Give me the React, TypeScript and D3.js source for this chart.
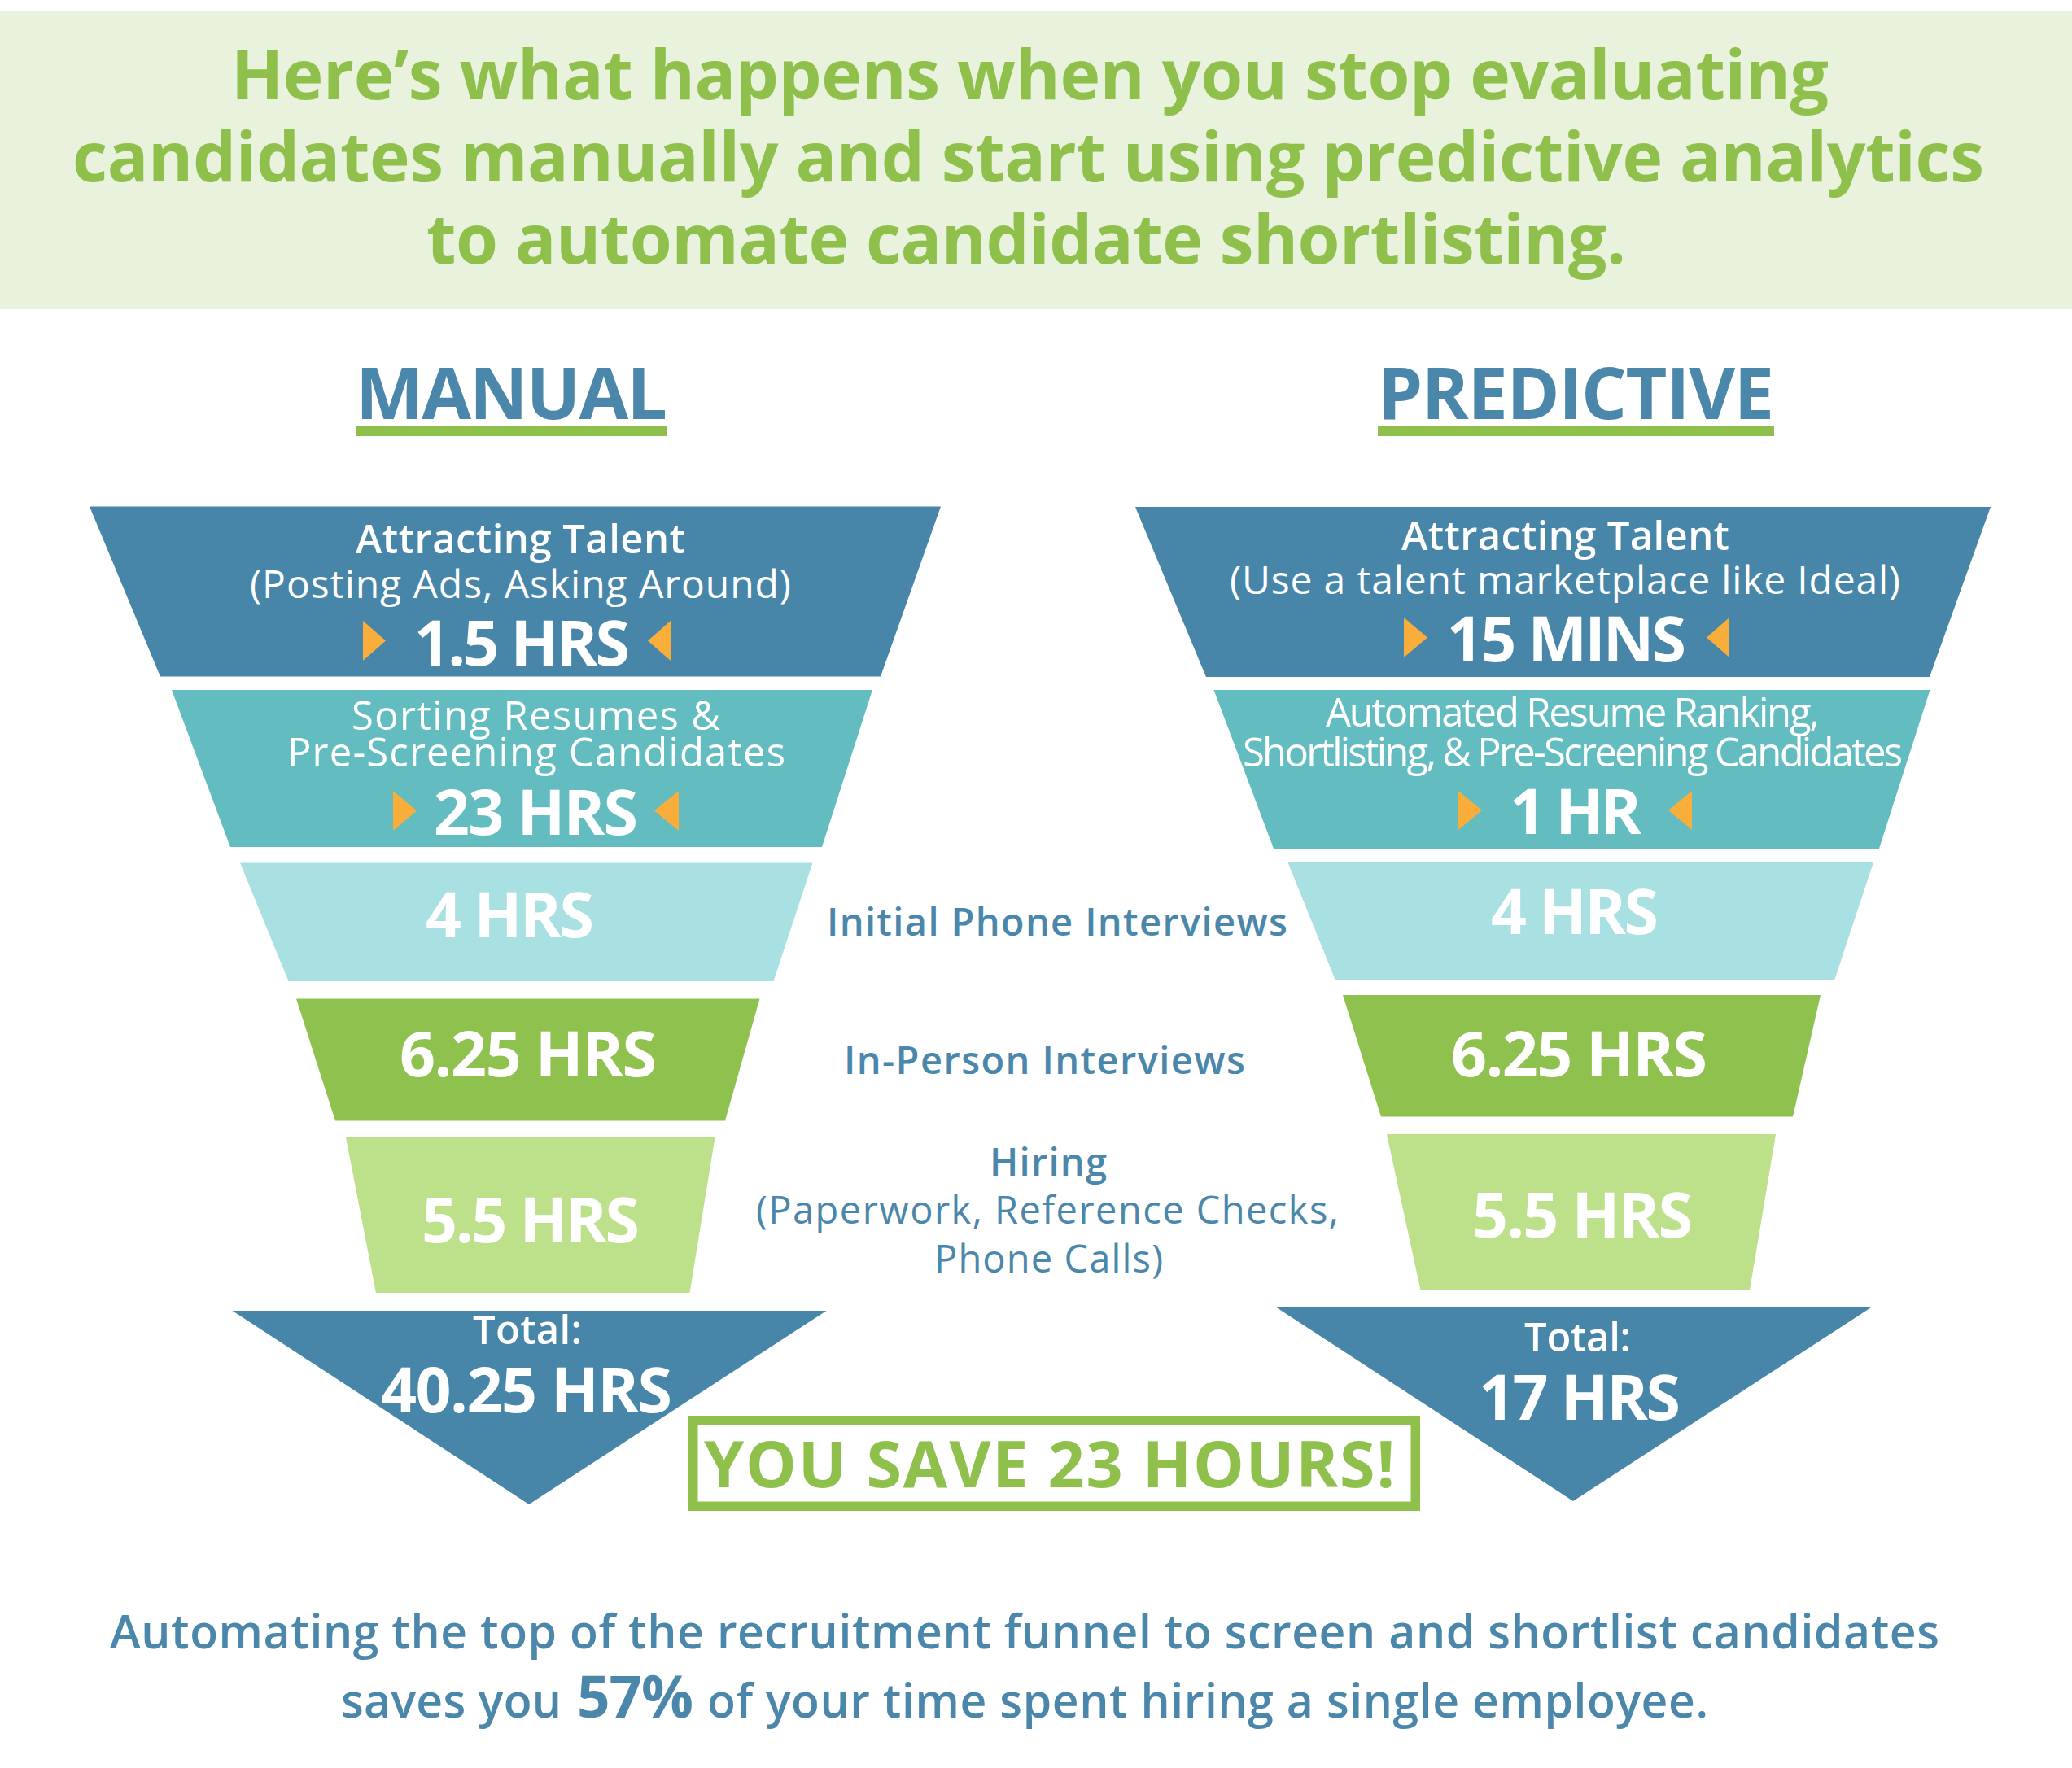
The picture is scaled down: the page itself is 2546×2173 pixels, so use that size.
import React from "react";
import * as d3 from "d3";

// ---------- DATA ----------
const titleLines = [
  "Here\u2019s what happens when you stop evaluating",
  "candidates manually and start using predictive analytics",
  "to automate candidate shortlisting.",
];
const columnTitles = ["MANUAL", "PREDICTIVE"];
const manualStageLabels = [
  ["Attracting Talent", "(Posting Ads, Asking Around)"],
  ["Sorting Resumes &", "Pre-Screening Candidates"],
];
const predictiveStageLabels = [
  ["Attracting Talent", "(Use a talent marketplace like Ideal)"],
  ["Automated Resume Ranking,", "Shortlisting, & Pre-Screening Candidates"],
];
const middleLabels = [
  ["Initial Phone Interviews"],
  ["In-Person Interviews"],
  ["Hiring", "(Paperwork, Reference Checks,", "Phone Calls)"],
];
const manualHours = ["1.5 HRS", "23 HRS", "4 HRS", "6.25 HRS", "5.5 HRS"];
const predictiveHours = ["15 MINS", "1 HR", "4 HRS", "6.25 HRS", "5.5 HRS"];
const totalLabel = "Total:";
const manualTotal = "40.25 HRS";
const predictiveTotal = "17 HRS";
const saveText = "YOU SAVE 23 HOURS!";
const footerLine1 = "Automating the top of the recruitment funnel to screen and shortlist candidates";
const footerLine2 = ["saves you", "57%", "of your time spent hiring a single employee."];

// ---------- STYLE / LAYOUT ----------
const BLUE = "#4786a8";
const TEXTBLUE = "#4a87aa";
const GREEN = "#8fc04c";
const ORANGE = "#f9ae3b";
const segColors = ["#4786a8", "#63bcc0", "#a9e0e2", "#8fc14f", "#bde08b"];
const FONT = "'Open Sans', 'Noto Sans', sans-serif";

const leftGeom = [
  { yt: 622.5, yb: 831.5, tl: 110, tr: 1156, bl: 197, br: 1082 },
  { yt: 848, yb: 1041, tl: 211, tr: 1072, bl: 283, br: 1010 },
  { yt: 1060.5, yb: 1206, tl: 295, tr: 998.5, bl: 354.5, br: 950.5 },
  { yt: 1227.5, yb: 1377.5, tl: 364, tr: 933.5, bl: 412, br: 891 },
  { yt: 1398, yb: 1589, tl: 425, tr: 878.5, bl: 462, br: 847.5 },
];
const rightGeom = [
  { yt: 623, yb: 832, tl: 1395, tr: 2446, bl: 1482, br: 2371 },
  { yt: 848, yb: 1043, tl: 1491.5, tr: 2371.5, bl: 1565, br: 2309 },
  { yt: 1060, yb: 1205, tl: 1582.5, tr: 2302, bl: 1641, br: 2254 },
  { yt: 1223, yb: 1372.5, tl: 1650, tr: 2237, bl: 1697, br: 2203 },
  { yt: 1394, yb: 1585.5, tl: 1704, tr: 2182, bl: 1745.5, br: 2150 },
];
const leftTri = { yt: 1611, l: 285.5, r: 1015.5, ax: 650, ay: 1849 };
const rightTri = { yt: 1607, l: 1568.5, r: 2299, ax: 1933, ay: 1845 };

const closed = d3.line().curve(d3.curveLinearClosed);

function T({ x1, x2, y, size, weight = 400, fill = "#fff", children, adjust = "spacing" }: any) {
  return (
    <text
      x={x1}
      y={y}
      textLength={x2 - x1}
      lengthAdjust={adjust}
      fontSize={size}
      fontWeight={weight}
      fill={fill}
      fontFamily={FONT}
    >
      {children}
    </text>
  );
}

function Arrows({ l1, l2, r1, r2, y1, y2 }: any) {
  const m = (y1 + y2) / 2;
  return (
    <g fill={ORANGE}>
      <path d={closed([[l1, y1], [l2, m], [l1, y2]]) as string} />
      <path d={closed([[r2, y1], [r1, m], [r2, y2]]) as string} />
    </g>
  );
}

function Funnel({ geom, tri }: any) {
  return (
    <g>
      {geom.map((g: any, i: number) => (
        <path
          key={i}
          d={closed([[g.tl, g.yt], [g.tr, g.yt], [g.br, g.yb], [g.bl, g.yb]]) as string}
          fill={segColors[i]}
        />
      ))}
      <path d={closed([[tri.l, tri.yt], [tri.r, tri.yt], [tri.ax, tri.ay]]) as string} fill={BLUE} />
    </g>
  );
}

export default function App() {
  return (
    <svg
      width={2546}
      height={2173}
      viewBox="0 0 2546 2173"
      style={{ position: "absolute", left: 0, top: 0 }}
    >
      <rect x={0} y={0} width={2546} height={2173} fill="#fff" />
      {/* header */}
      <rect x={0} y={14} width={2546} height={366} fill="#e8f2dc" />
      <T x1={284} x2={2247} y={122} size={84} weight={700} fill={GREEN}>{titleLines[0]}</T>
      <T x1={89} x2={2438} y={223} size={84} weight={700} fill={GREEN}>{titleLines[1]}</T>
      <T x1={524} x2={1998} y={324} size={84} weight={700} fill={GREEN}>{titleLines[2]}</T>

      {/* column titles */}
      <T x1={437} x2={820} y={515} size={88} weight={700} fill={TEXTBLUE}>{columnTitles[0]}</T>
      <rect x={437} y={523} width={383} height={13} fill={GREEN} />
      <T x1={1693} x2={2180} y={515} size={88} weight={700} fill={TEXTBLUE}>{columnTitles[1]}</T>
      <rect x={1693} y={523} width={487} height={13} fill={GREEN} />

      <Funnel geom={leftGeom} tri={leftTri} />
      <Funnel geom={rightGeom} tri={rightTri} />

      {/* left funnel texts */}
      <T x1={437} x2={842} y={680} size={49} weight={600}>{manualStageLabels[0][0]}</T>
      <T x1={307} x2={972} y={735} size={48} weight={400}>{manualStageLabels[0][1]}</T>
      <T x1={509} x2={774} y={818} size={77} weight={700}>{manualHours[0]}</T>
      <Arrows l1={446} l2={474} r1={796} r2={824} y1={763} y2={812} />
      <T x1={432} x2={885} y={897} size={49} weight={500}>{manualStageLabels[1][0]}</T>
      <T x1={353} x2={965} y={942} size={49} weight={500}>{manualStageLabels[1][1]}</T>
      <T x1={533} x2={784} y={1026} size={77} weight={700}>{manualHours[1]}</T>
      <Arrows l1={483} l2={512} r1={804} r2={834} y1={972} y2={1021} />
      <T x1={523} x2={730} y={1152} size={77} weight={700}>{manualHours[2]}</T>
      <T x1={491} x2={807} y={1323} size={77} weight={700}>{manualHours[3]}</T>
      <T x1={518} x2={786} y={1527} size={77} weight={700}>{manualHours[4]}</T>
      <T x1={581} x2={715} y={1652} size={49} weight={600}>{totalLabel}</T>
      <T x1={468} x2={826} y={1736} size={77} weight={700}>{manualTotal}</T>

      {/* middle labels */}
      <T x1={1016} x2={1582} y={1150} size={47} weight={600} fill={TEXTBLUE}>{middleLabels[0][0]}</T>
      <T x1={1037} x2={1530} y={1320} size={47} weight={600} fill={TEXTBLUE}>{middleLabels[1][0]}</T>
      <T x1={1216} x2={1360} y={1445} size={47} weight={600} fill={TEXTBLUE}>{middleLabels[2][0]}</T>
      <T x1={929} x2={1645} y={1504} size={47} weight={400} fill={TEXTBLUE}>{middleLabels[2][1]}</T>
      <T x1={1148} x2={1429} y={1564} size={47} weight={400} fill={TEXTBLUE}>{middleLabels[2][2]}</T>

      {/* right funnel texts */}
      <T x1={1722} x2={2125} y={676} size={49} weight={600}>{predictiveStageLabels[0][0]}</T>
      <T x1={1511} x2={2335} y={730} size={48} weight={400}>{predictiveStageLabels[0][1]}</T>
      <T x1={1778} x2={2072} y={813} size={77} weight={700}>{predictiveHours[0]}</T>
      <Arrows l1={1725} l2={1754} r1={2097} r2={2125} y1={759} y2={808} />
      <T x1={1629} x2={2236} y={893} size={49} weight={500}>{predictiveStageLabels[1][0]}</T>
      <T x1={1527} x2={2338} y={942} size={49} weight={500}>{predictiveStageLabels[1][1]}</T>
      <T x1={1855} x2={2017} y={1025} size={77} weight={700}>{predictiveHours[1]}</T>
      <Arrows l1={1792} l2={1821} r1={2050} r2={2079} y1={972} y2={1020} />
      <T x1={1832} x2={2038} y={1148} size={77} weight={700}>{predictiveHours[2]}</T>
      <T x1={1783} x2={2098} y={1323} size={77} weight={700}>{predictiveHours[3]}</T>
      <T x1={1809} x2={2080} y={1521} size={77} weight={700}>{predictiveHours[4]}</T>
      <T x1={1873} x2={2004} y={1661} size={49} weight={600}>{totalLabel}</T>
      <T x1={1817} x2={2065} y={1745} size={77} weight={700}>{predictiveTotal}</T>

      {/* save box */}
      <rect x={851.75} y={1745.75} width={887.5} height={105.5} fill="#fff" stroke={GREEN} strokeWidth={11.5} />
      <T x1={865} x2={1714} y={1828} size={79} weight={700} fill={GREEN}>{saveText}</T>

      {/* footer */}
      <T x1={135} x2={2383} y={2026} size={57} weight={600} fill={TEXTBLUE}>{footerLine1}</T>
      <T x1={419} x2={690} y={2111} size={57} weight={600} fill={TEXTBLUE}>{footerLine2[0]}</T>
      <T x1={709} x2={852} y={2111} size={71} weight={700} fill={TEXTBLUE}>{footerLine2[1]}</T>
      <T x1={869} x2={2099} y={2111} size={57} weight={600} fill={TEXTBLUE}>{footerLine2[2]}</T>
    </svg>
  );
}
